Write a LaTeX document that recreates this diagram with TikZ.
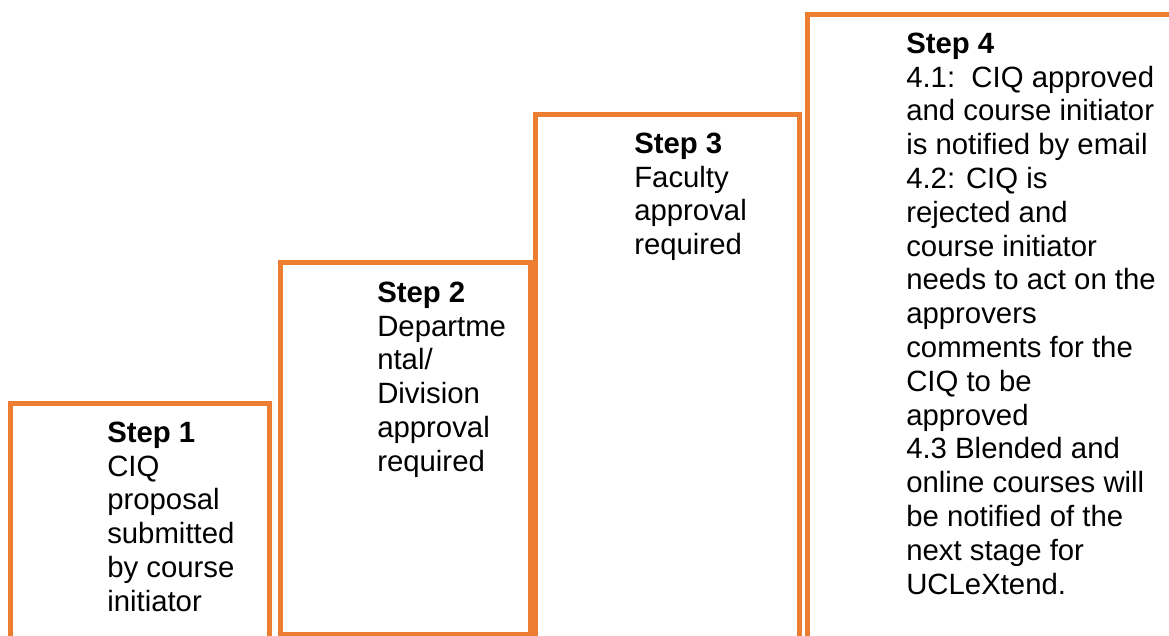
\documentclass[tikz,border=0pt]{standalone}
\usepackage{fontspec}
\setmainfont{Liberation Sans}
\definecolor{steporange}{HTML}{ED7D31}
\begin{document}
\begin{tikzpicture}[x=0.75pt,y=-0.75pt,
  stepframe/.style={draw=steporange,line width=3.75pt},
  steptext/.style={anchor=north west,inner sep=0pt,align=left,
    font=\fontsize{22pt}{25.35pt}\selectfont}]
\useasboundingbox (0,0) rectangle (1169,635);
\clip (0,0) rectangle (1169,635);
\fill[white] (0,0) rectangle (1169,635);
% frames (open at the bottom of the page)
\draw[stepframe] (10.5,660) rectangle (269.5,403.5);
\draw[stepframe] (280.5,634) rectangle (530.5,262.5);
\draw[stepframe] (535.5,660) rectangle (799.5,114.5);
\draw[stepframe] (807.5,660) rectangle (1210,14.5);
% texts
\node[steptext] (s1) at (107,421.5) {\textbf{Step 1}\\CIQ\\proposal\\submitted\\by course\\initiator};
\node[steptext] (s2) at (377,281.5) {\textbf{Step 2}\\Departme\\ntal/\\Division\\approval\\required};
\node[steptext] (s3) at (634,132.5) {\textbf{Step 3}\\Faculty\\approval\\required};
\node[steptext] (s4) at (906,32.5) {\textbf{Step 4}\\4.1:\ \ CIQ approved\\and course initiator\\is notified by email\\4.2: CIQ is\\rejected and\\course initiator\\needs to act on the\\approvers\\comments for the\\CIQ to be\\approved\\4.3 Blended and\\online courses will\\be notified of the\\next stage for\\UCLeXtend.};
\end{tikzpicture}
\end{document}
